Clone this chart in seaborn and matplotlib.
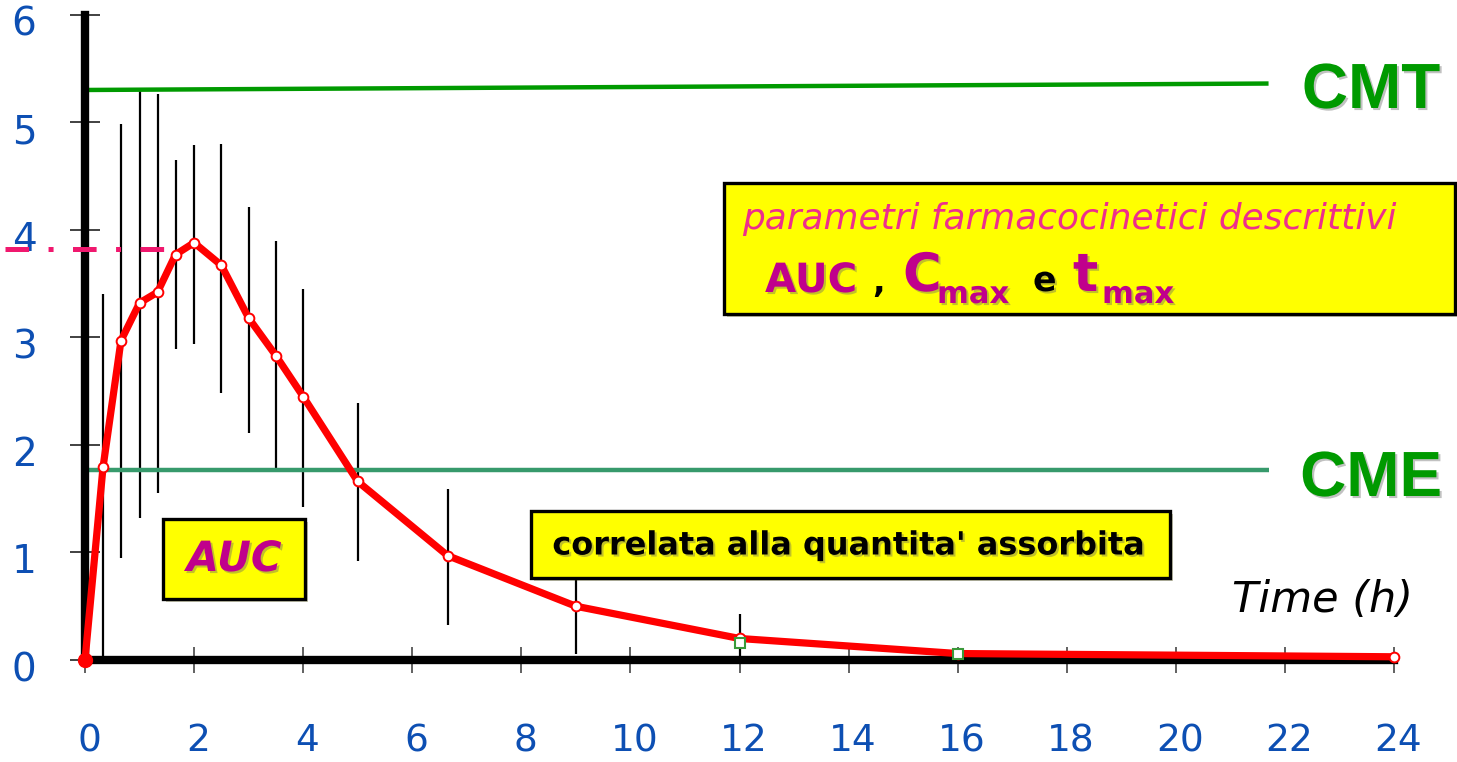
import matplotlib
matplotlib.use("Agg")
import matplotlib.pyplot as plt
import matplotlib.patheffects as pe
from matplotlib.patches import Rectangle
from matplotlib.transforms import ScaledTranslation
import seaborn as sns
import pandas as pd

# ---------------- data ----------------
time_h = [0, 0.33, 0.66, 1.0, 1.33, 1.66, 2.0, 2.5, 3.0, 3.5, 4.0, 5.0, 6.65, 9.0, 12.0, 16.0, 24.0]
conc = [0, 1.79, 2.97, 3.32, 3.42, 3.77, 3.88, 3.67, 3.18, 2.83, 2.45, 1.66, 0.97, 0.50, 0.20, 0.06, 0.03]

err_t = [0.33, 0.66, 1.0, 1.33, 1.66, 2.0, 2.5, 3.0, 3.5, 4.0, 5.0, 6.65, 9.0, 12.0]
err_hi = [3.40, 4.98, 5.29, 5.26, 4.65, 4.79, 4.80, 4.21, 3.90, 3.45, 2.39, 1.59, 0.76, 0.43]
err_lo = [0.0, 0.95, 1.32, 1.55, 2.89, 2.94, 2.48, 2.11, 1.78, 1.42, 0.92, 0.33, 0.06, 0.0]

sq_t = [12.0, 16.0]
sq_c = [0.16, 0.06]

cmt_x = [0, 21.7]
cmt_y = [5.30, 5.36]
cme_x = [0, 21.7]
cme_y = [1.765, 1.765]
cmax_x = [-1.47, 1.47]
cmax_y = [3.82, 3.82]

x_ticks = list(range(0, 25, 2))
y_ticks = [0, 1, 2, 3, 4, 5, 6]

# ---------------- style ----------------
sns.set_theme(style="white")
plt.rcParams['font.family'] = ['DejaVu Sans']
plt.rcParams['lines.scale_dashes'] = False

W, H = 1457, 762
fig = plt.figure(figsize=(W / 100, H / 100), dpi=100)
ax = fig.add_axes([85 / W, (H - 660) / H, (1394 - 85) / W, (660 - 14.7) / H])
ax.set_xlim(0, 24)
ax.set_ylim(0, 6)
ax.patch.set_alpha(0)

for s in ['top', 'right']:
    ax.spines[s].set_visible(False)
for s in ['left', 'bottom']:
    ax.spines[s].set_color('black')
    ax.spines[s].set_linewidth(6)
    ax.spines[s].set_zorder(3)

blue = '#0d4fb3'
ax.set_xticks(x_ticks)
ax.set_yticks(y_ticks)
ax.set_xticklabels([str(v) for v in x_ticks])
ax.set_yticklabels([str(v) for v in y_ticks])
ax.tick_params(axis='x', direction='inout', length=19, width=1.3, color='#555555',
               labelsize=27, labelcolor=blue, pad=36, bottom=True)
ax.tick_params(axis='y', direction='inout', length=22, width=1.3, color='#333333',
               labelsize=28, labelcolor=blue, pad=24, left=True)
for lab in ax.get_yticklabels():
    lab.set_transform(lab.get_transform() + ScaledTranslation(0, -0.06, fig.dpi_scale_trans))
for lab in ax.get_xticklabels():
    lab.set_transform(lab.get_transform() + ScaledTranslation(0.04, 0, fig.dpi_scale_trans))

# error bars
ax.vlines(err_t, err_lo, err_hi, colors='black', linewidth=1.6, zorder=2, clip_on=False)

# reference lines
ax.plot(cmt_x, cmt_y, color='#009a00', linewidth=3.2, zorder=2, clip_on=False,
        solid_capstyle='butt')
ax.plot(cme_x, cme_y, color='#379a6c', linewidth=3.2, zorder=2, clip_on=False,
        solid_capstyle='butt')
cl, = ax.plot(cmax_x, cmax_y, color='#f0186e', linewidth=3.6, zorder=4, clip_on=False,
              solid_capstyle='butt')
cl.set_dashes([17, 14, 3.6, 14])

# concentration curve
df = pd.DataFrame({'t': time_h, 'c': conc})
sns.lineplot(data=df, x='t', y='c', ax=ax, color='#ff0000', linewidth=5.2,
             marker='o', markersize=7, markerfacecolor='white',
             markeredgecolor='#ff0000', markeredgewidth=1.4, zorder=5, clip_on=False)
ax.plot(time_h[:1], conc[:1], 'o', color='#ff0000', markersize=10, zorder=6, clip_on=False)
ax.plot(sq_t, sq_c, 's', markerfacecolor='white', markeredgecolor='#3a9a3a',
        markersize=6.5, markeredgewidth=1.5, zorder=6, clip_on=False, linestyle='none')
ax.set_xlabel('')
ax.set_ylabel('')


def P(x, y):
    return x / W, 1 - y / H


def box(x0, y0, x1, y1):
    fig.patches.append(Rectangle(P(x0, y1), (x1 - x0) / W, (y1 - y0) / H,
                                 transform=fig.transFigure, facecolor='#ffff00',
                                 edgecolor='black', linewidth=2.4, zorder=10,
                                 path_effects=[pe.withSimplePatchShadow(offset=(2, -2), alpha=0.3)]))


shadow = [pe.withSimplePatchShadow(offset=(1.5, -1.5), shadow_rgbFace='#666666', alpha=0.4)]
purple = '#c0008c'

# box 1: parameters
box(724, 183, 1455, 314)
fig.text(*P(742, 219), 'parametri farmacocinetici descrittivi', fontsize=25.8,
         style='italic', color='#ee2e8c', ha='left', va='center', zorder=11)
fig.text(*P(765, 292), 'AUC', fontsize=29, fontweight='bold', color=purple,
         ha='left', va='baseline', zorder=11, path_effects=shadow)
fig.text(*P(872, 292), ',', fontsize=24, fontweight='bold', color='black',
         ha='left', va='baseline', zorder=11)
fig.text(*P(903, 291), 'C', fontsize=38, fontweight='bold', color=purple,
         ha='left', va='baseline', zorder=11, path_effects=shadow)
fig.text(*P(937, 303), 'max', fontsize=22, fontweight='bold', color=purple,
         ha='left', va='baseline', zorder=11, path_effects=shadow)
fig.text(*P(1033, 291), 'e', fontsize=25, fontweight='bold', color='black',
         ha='left', va='baseline', zorder=11, path_effects=shadow)
fig.text(*P(1073, 291), 't', fontsize=38, fontweight='bold', color=purple,
         ha='left', va='baseline', zorder=11, path_effects=shadow)
fig.text(*P(1102, 303), 'max', fontsize=22, fontweight='bold', color=purple,
         ha='left', va='baseline', zorder=11, path_effects=shadow)

# box 2: AUC
box(163, 519, 305, 599)
fig.text(*P(234, 559), 'AUC', fontsize=30, fontweight='bold', style='italic',
         color=purple, ha='center', va='center', zorder=11, path_effects=shadow)

# box 3
box(531, 511, 1170, 578)
fig.text(*P(849, 546), "correlata alla quantita' assorbita", fontsize=23,
         fontweight='bold', color='black', ha='center', va='center', zorder=11,
         path_effects=shadow)

# labels
fig.text(*P(1371, 91), 'CMT', fontsize=46, fontweight='bold', color='#009a00',
         family=['Liberation Sans'], ha='center', va='center', path_effects=shadow)
fig.text(*P(1371, 479), 'CME', fontsize=46, fontweight='bold', color='#009a00',
         family=['Liberation Sans'], ha='center', va='center', path_effects=shadow)
fig.text(*P(1323, 600), 'Time (h)', fontsize=31, style='italic', color='black',
         ha='center', va='center')

fig.savefig('out.png', dpi=100)
